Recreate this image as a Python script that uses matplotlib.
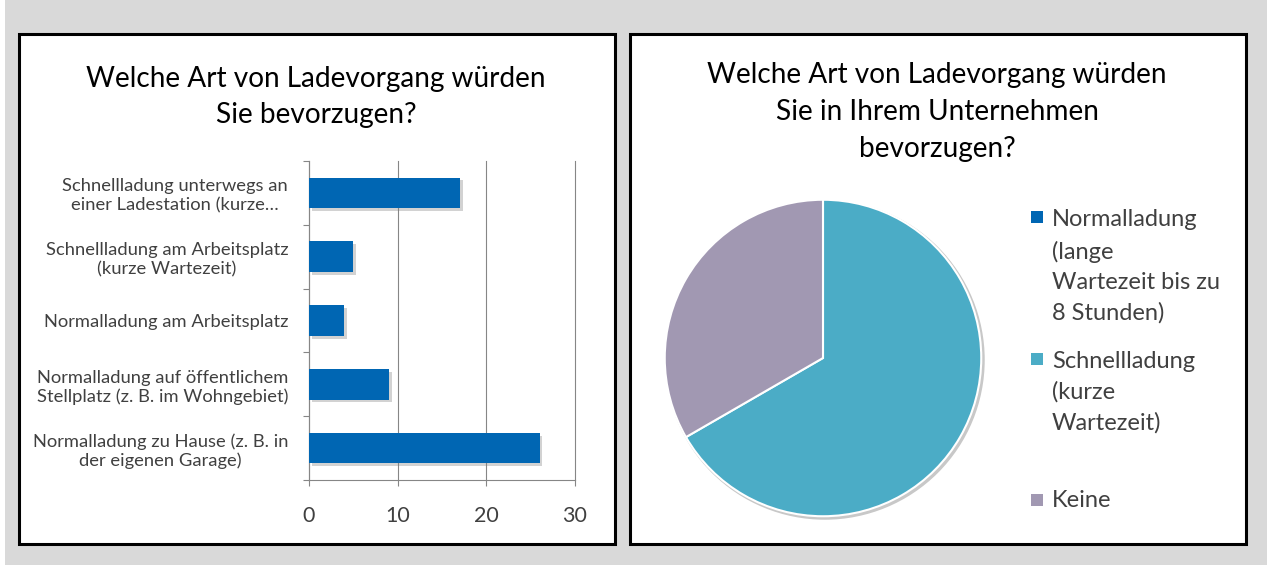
import matplotlib.pyplot as plt
from matplotlib.patches import Rectangle, Circle
import matplotlib.patheffects as pe

plt.rcParams['font.family'] = ['Lato', 'DejaVu Sans']

# Linkes Diagramm: bevorzugte Art des Ladevorgangs
kategorien = [
    "Schnellladung unterwegs an\neiner Ladestation (kurze…",
    "Schnellladung am Arbeitsplatz\n(kurze Wartezeit)",
    "Normalladung am Arbeitsplatz",
    "Normalladung auf öffentlichem\nStellplatz (z. B. im Wohngebiet)",
    "Normalladung zu Hause (z. B. in\nder eigenen Garage)",
]
anzahl = [17, 5, 4, 9, 26]
x_ticks = [0, 10, 20, 30]
titel_links = "Welche Art von Ladevorgang würden\nSie bevorzugen?"

# Rechtes Diagramm: Ladevorgang im Unternehmen
pie_labels = [
    "Normalladung\n(lange\nWartezeit bis zu\n8 Stunden)",
    "Schnellladung\n(kurze\nWartezeit)",
    "Keine",
]
pie_werte = [0, 24, 12]
pie_farben = ["#0066b3", "#4bacc6", "#a198b2"]
titel_rechts = "Welche Art von Ladevorgang würden\nSie in Ihrem Unternehmen\nbevorzugen?"

W, H = 1275, 565
fig = plt.figure(figsize=(W / 100, H / 100), dpi=100)


def box(x0, y0, x1, y1):
    # pixel box (origin top left) -> figure fractions
    return [x0 / W, 1 - y1 / H, (x1 - x0) / W, (y1 - y0) / H]


def px(x, y):
    return x / W, 1 - y / H


# grauer Hintergrund und die beiden Rahmen
fig.patches.append(Rectangle((5 / W, 0), 1262 / W, 1, transform=fig.transFigure,
                             facecolor="#d9d9d9", edgecolor="none", zorder=-3))
for x0, x1 in [(19, 615), (630, 1246)]:
    r = Rectangle(px(x0, 544), (x1 - x0) / W, (544 - 34) / H, transform=fig.transFigure,
                  facecolor="white", edgecolor="black", linewidth=2.2, zorder=-2)
    r.set_path_effects([pe.SimplePatchShadow(offset=(1.5, -1.5), shadow_rgbFace="#909090", alpha=0.6),
                        pe.Normal()])
    fig.patches.append(r)

grau = "#868686"
text_grau = "#404040"

# Balkendiagramm
ax = fig.add_axes(box(309, 161, 575, 480))
y = list(range(len(kategorien)))
bars = ax.barh(y, anzahl, height=0.48, color="#0066b3", zorder=3)
for b in bars:
    b.set_path_effects([pe.SimplePatchShadow(offset=(2, -2), shadow_rgbFace="#7f7f7f", alpha=0.35),
                        pe.Normal()])
ax.set_ylim(len(kategorien) - 0.5, -0.5)
ax.set_xlim(x_ticks[0], x_ticks[-1])
ax.set_xticks(x_ticks)
ax.set_xticklabels([str(t) for t in x_ticks], fontsize=15.5, color=text_grau)
ax.set_yticks(y)
ax.set_yticklabels(kategorien, fontsize=13.2, color=text_grau, multialignment="center",
                   linespacing=1.22)
ax.set_yticks([i - 0.5 for i in range(len(kategorien) + 1)], minor=True)
ax.tick_params(axis="y", which="major", length=0, pad=15)
ax.tick_params(axis="y", which="minor", length=4, color=grau, width=0.8)
ax.tick_params(axis="x", length=4, color=grau, width=0.8, pad=15)
ax.grid(axis="x", color=grau, linewidth=0.8, zorder=0)
for line in ax.get_xgridlines():
    line.set_clip_on(False)  # Gitterlinie bei 30 liegt genau auf dem Rand
for s in ["top", "right"]:
    ax.spines[s].set_visible(False)
for s in ["left", "bottom"]:
    ax.spines[s].set_color(grau)
    ax.spines[s].set_linewidth(0.8)
ax.set_facecolor("none")

fig.text(*px(316, 97), titel_links, ha="center", va="center", fontsize=20.2,
         linespacing=1.5, color="black")

# Kreisdiagramm
axp = fig.add_axes(box(660, 195, 986, 521))
axp.add_patch(Circle((0.012, -0.012), 1.01, facecolor="#c8c8c8", edgecolor="none", zorder=0))
wedges, _ = axp.pie(pie_werte, colors=pie_farben, startangle=90, counterclock=False,
                    wedgeprops=dict(edgecolor="white", linewidth=1.5, zorder=2))
axp.set_xlim(-1.03, 1.03)
axp.set_ylim(-1.03, 1.03)

fig.text(*px(937, 112), titel_rechts, ha="center", va="center", fontsize=20.2,
         linespacing=1.5, color="black")

# Legende: Marker auf Höhe der ersten Zeile, 32 px Zeilenabstand
legende_y = [217, 359, 500]
zeile = 32
for label, farbe, ly in zip(pie_labels, pie_farben, legende_y):
    fig.patches.append(Rectangle(px(1031, ly + 6), 12 / W, 12 / H, transform=fig.transFigure,
                                 facecolor=farbe, edgecolor="none"))
    n = label.count("\n")
    fig.text(*px(1052, ly + 7 + n * zeile), label, ha="left", va="baseline", fontsize=17,
             linespacing=1.55, color=text_grau)

fig.savefig("out.png", dpi=100)
